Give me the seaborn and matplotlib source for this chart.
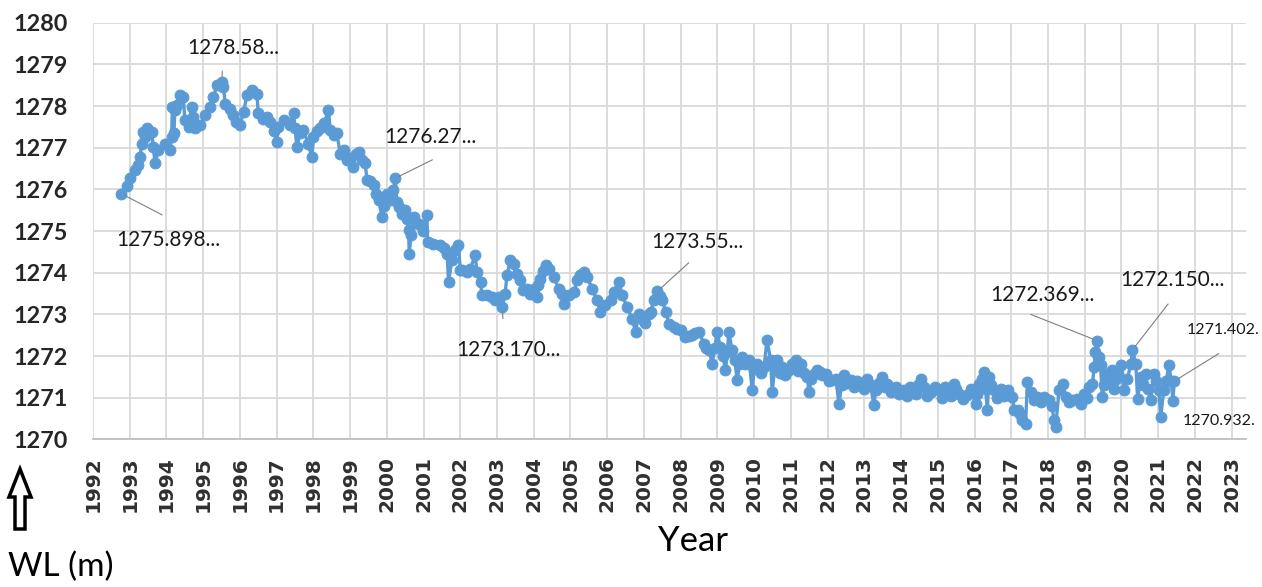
import matplotlib
matplotlib.use('Agg')
import matplotlib.pyplot as plt
from matplotlib.patches import Polygon
import seaborn as sns
import pandas as pd

# water level (decimal year, metres)
years = [
    1992.76, 1992.92, 1993.00, 1993.14, 1993.23, 1993.28, 1993.33, 1993.37, 1993.42, 1993.46,
    1993.60, 1993.64, 1993.69, 1993.78, 1993.96, 1994.10, 1994.14, 1994.16, 1994.20, 1994.23,
    1994.28, 1994.37, 1994.46, 1994.50, 1994.60, 1994.69, 1994.73, 1994.78, 1994.92, 1995.05,
    1995.19, 1995.28, 1995.37, 1995.51, 1995.55, 1995.60, 1995.73, 1995.82, 1995.90, 1996.00,
    1996.10, 1996.19, 1996.32, 1996.46, 1996.50, 1996.64, 1996.73, 1996.82, 1996.92, 1997.00,
    1997.05, 1997.19, 1997.35, 1997.46, 1997.50, 1997.55, 1997.64, 1997.73, 1997.85, 1997.96,
    1998.00, 1998.10, 1998.19, 1998.30, 1998.41, 1998.46, 1998.55, 1998.64, 1998.73, 1998.82,
    1998.91, 1999.00, 1999.09, 1999.16, 1999.23, 1999.32, 1999.41, 1999.46, 1999.55, 1999.64,
    1999.71, 1999.78, 1999.87, 1999.93, 2000.00, 2000.09, 2000.18, 2000.23, 2000.27, 2000.32,
    2000.41, 2000.50, 2000.55, 2000.59, 2000.61, 2000.66, 2000.73, 2000.80, 2000.87, 2000.98,
    2001.09, 2001.11, 2001.27, 2001.45, 2001.55, 2001.64, 2001.68, 2001.77, 2001.86, 2001.95,
    2002.00, 2002.05, 2002.18, 2002.27, 2002.41, 2002.45, 2002.55, 2002.59, 2002.73, 2002.86,
    2002.95, 2003.04, 2003.14, 2003.22, 2003.27, 2003.36, 2003.45, 2003.54, 2003.63, 2003.72,
    2003.82, 2003.91, 2004.00, 2004.09, 2004.11, 2004.18, 2004.25, 2004.32, 2004.41, 2004.54,
    2004.68, 2004.77, 2004.81, 2004.95, 2005.09, 2005.18, 2005.27, 2005.36, 2005.45, 2005.59,
    2005.72, 2005.81, 2005.95, 2006.09, 2006.18, 2006.31, 2006.41, 2006.54, 2006.68, 2006.77,
    2006.86, 2006.95, 2007.04, 2007.13, 2007.18, 2007.27, 2007.36, 2007.43, 2007.50, 2007.59,
    2007.68, 2007.81, 2007.90, 2008.00, 2008.13, 2008.22, 2008.31, 2008.40, 2008.50, 2008.63,
    2008.70, 2008.77, 2008.86, 2008.93, 2008.99, 2009.08, 2009.15, 2009.22, 2009.27, 2009.31,
    2009.40, 2009.47, 2009.54, 2009.60, 2009.67, 2009.76, 2009.86, 2009.95, 2010.00, 2010.08,
    2010.18, 2010.27, 2010.35, 2010.45, 2010.49, 2010.56, 2010.63, 2010.70, 2010.76, 2010.85,
    2010.95, 2011.04, 2011.13, 2011.20, 2011.27, 2011.36, 2011.45, 2011.49, 2011.56, 2011.63,
    2011.72, 2011.80, 2011.85, 2011.95, 2012.05, 2012.13, 2012.22, 2012.31, 2012.38, 2012.45,
    2012.54, 2012.63, 2012.72, 2012.80, 2012.90, 2013.00, 2013.08, 2013.17, 2013.26, 2013.31,
    2013.40, 2013.49, 2013.56, 2013.63, 2013.72, 2013.85, 2013.95, 2014.08, 2014.17, 2014.25,
    2014.31, 2014.40, 2014.47, 2014.53, 2014.62, 2014.70, 2014.81, 2014.92, 2015.03, 2015.12,
    2015.20, 2015.26, 2015.35, 2015.44, 2015.50, 2015.58, 2015.68, 2015.80, 2015.90, 2016.03,
    2016.08, 2016.12, 2016.20, 2016.26, 2016.30, 2016.35, 2016.39, 2016.46, 2016.53, 2016.62,
    2016.71, 2016.80, 2016.90, 2017.03, 2017.08, 2017.17, 2017.25, 2017.30, 2017.39, 2017.44,
    2017.53, 2017.62, 2017.71, 2017.80, 2017.90, 2018.03, 2018.10, 2018.17, 2018.21, 2018.30,
    2018.40, 2018.49, 2018.58, 2018.67, 2018.80, 2018.90, 2018.98, 2019.05, 2019.12, 2019.21,
    2019.26, 2019.28, 2019.34, 2019.39, 2019.43, 2019.48, 2019.52, 2019.57, 2019.66, 2019.75,
    2019.80, 2019.84, 2019.90, 2019.98, 2020.07, 2020.16, 2020.26, 2020.30, 2020.39, 2020.44,
    2020.53, 2020.60, 2020.66, 2020.72, 2020.80, 2020.89, 2020.95, 2021.02, 2021.07, 2021.15,
    2021.22, 2021.29, 2021.36, 2021.40, 2021.44,
]
wl = [
    1275.90, 1276.07, 1276.27, 1276.47, 1276.58, 1276.78, 1277.10, 1277.38, 1277.26, 1277.47,
    1277.38, 1277.02, 1276.63, 1276.94, 1277.10, 1276.94, 1277.26, 1277.98, 1277.35, 1277.90,
    1278.02, 1278.27, 1278.22, 1277.67, 1277.50, 1277.98, 1277.74, 1277.47, 1277.55, 1277.78,
    1277.98, 1278.22, 1278.50, 1278.58, 1278.46, 1278.06, 1277.94, 1277.78, 1277.62, 1277.55,
    1277.86, 1278.26, 1278.38, 1278.30, 1277.83, 1277.70, 1277.74, 1277.62, 1277.40, 1277.14,
    1277.50, 1277.67, 1277.55, 1277.83, 1277.47, 1277.02, 1277.35, 1277.43, 1277.10, 1276.78,
    1277.26, 1277.40, 1277.47, 1277.60, 1277.90, 1277.43, 1277.30, 1277.35, 1276.86, 1276.95,
    1276.70, 1276.75, 1276.54, 1276.85, 1276.90, 1276.70, 1276.63, 1276.22, 1276.20, 1276.10,
    1275.90, 1275.74, 1275.34, 1275.60, 1275.90, 1275.75, 1275.98, 1276.27, 1275.70, 1275.58,
    1275.40, 1275.50, 1275.30, 1275.02, 1274.46, 1274.90, 1275.34, 1275.20, 1275.18, 1275.00,
    1275.38, 1274.74, 1274.70, 1274.66, 1274.60, 1274.46, 1273.78, 1274.30, 1274.54, 1274.66,
    1274.07, 1274.07, 1274.02, 1274.10, 1274.42, 1274.02, 1273.78, 1273.46, 1273.46, 1273.42,
    1273.35, 1273.42, 1273.17, 1273.50, 1273.94, 1274.30, 1274.22, 1273.98, 1273.82, 1273.58,
    1273.62, 1273.50, 1273.60, 1273.42, 1273.70, 1273.86, 1274.05, 1274.18, 1274.10, 1273.90,
    1273.62, 1273.50, 1273.26, 1273.46, 1273.54, 1273.82, 1273.95, 1274.02, 1273.90, 1273.62,
    1273.34, 1273.06, 1273.22, 1273.34, 1273.54, 1273.78, 1273.46, 1273.18, 1272.90, 1272.58,
    1273.02, 1272.90, 1272.80, 1273.02, 1273.06, 1273.34, 1273.55, 1273.45, 1273.34, 1273.06,
    1272.78, 1272.70, 1272.66, 1272.62, 1272.46, 1272.48, 1272.50, 1272.55, 1272.58, 1272.30,
    1272.20, 1272.14, 1271.82, 1272.20, 1272.58, 1272.22, 1272.00, 1271.66, 1272.10, 1272.58,
    1272.14, 1271.90, 1271.42, 1271.80, 1271.98, 1271.80, 1271.90, 1271.18, 1271.70, 1271.82,
    1271.60, 1271.74, 1272.38, 1271.90, 1271.14, 1271.70, 1271.90, 1271.60, 1271.74, 1271.55,
    1271.66, 1271.80, 1271.90, 1271.65, 1271.82, 1271.60, 1271.50, 1271.14, 1271.45, 1271.58,
    1271.66, 1271.62, 1271.54, 1271.58, 1271.40, 1271.42, 1271.46, 1270.86, 1271.30, 1271.54,
    1271.35, 1271.42, 1271.25, 1271.40, 1271.34, 1271.20, 1271.46, 1271.30, 1270.82, 1271.18,
    1271.35, 1271.50, 1271.25, 1271.34, 1271.15, 1271.26, 1271.10, 1271.18, 1271.05, 1271.25,
    1271.22, 1271.10, 1271.30, 1271.46, 1271.26, 1271.05, 1271.14, 1271.25, 1271.18, 1271.00,
    1271.25, 1271.14, 1271.05, 1271.34, 1271.20, 1271.10, 1270.98, 1271.06, 1271.20, 1270.86,
    1271.10, 1271.34, 1271.45, 1271.62, 1271.20, 1270.70, 1271.50, 1271.30, 1271.18, 1271.00,
    1271.22, 1271.05, 1271.18, 1271.02, 1270.70, 1270.70, 1270.60, 1270.46, 1270.38, 1271.38,
    1271.14, 1270.95, 1271.02, 1270.90, 1271.02, 1270.94, 1270.80, 1270.46, 1270.30, 1271.18,
    1271.34, 1271.02, 1270.90, 1270.94, 1270.98, 1270.85, 1271.10, 1271.00, 1271.26, 1271.34,
    1271.74, 1272.10, 1272.37, 1271.98, 1271.78, 1271.02, 1271.30, 1271.58, 1271.38, 1271.66,
    1271.20, 1271.46, 1271.60, 1271.78, 1271.18, 1271.46, 1271.82, 1272.15, 1271.82, 1270.98,
    1271.50, 1271.30, 1271.58, 1271.20, 1270.94, 1271.58, 1271.40, 1271.18, 1270.54, 1271.18,
    1271.40, 1271.78, 1271.40, 1270.93, 1271.40,
]

# data labels shown on the chart: text, labelled point, text position, leader end (None = no line)
label_texts = ['1278.58...', '1275.898...', '1276.27...', '1273.170...', '1273.55...',
               '1272.369...', '1272.150...', '1271.402.', '1270.932.']
label_points = [(1995.51, 1278.58), (1992.76, 1275.90), (2000.23, 1276.27), (2003.14, 1273.17),
                (2007.36, 1273.55), (2019.34, 1272.37), (2020.30, 1272.15), (2021.44, 1271.40),
                (2021.40, 1270.93)]
label_pos = [(1995.81, 1279.39), (1994.04, 1274.78), (2001.18, 1277.26), (2003.31, 1272.14),
             (2008.46, 1274.74), (2017.86, 1273.47), (2021.40, 1273.83), (2022.76, 1272.63),
             (2022.65, 1270.44)]
label_line_end = [(1995.52, 1278.84), (1993.88, 1275.39), (2001.24, 1276.71), (2003.16, 1272.90),
                  (2008.22, 1274.24), (2017.53, 1273.0), (2021.27, 1273.25), (2022.65, 1272.06),
                  None]
label_sizes = [15, 15, 15, 15, 15, 15, 15, 11.5, 11.5]

BLUE = '#5B9BD5'


def plot_wl(df):
    fig, ax = plt.subplots(figsize=(12.62, 5.87), dpi=100)
    fig.subplots_adjust(left=0.0737, right=0.987, top=0.9613, bottom=0.2514)

    sns.lineplot(data=df, x='year', y='wl', estimator=None, sort=False, ax=ax,
                 color=BLUE, linewidth=2.4, marker='o', markersize=7.8,
                 markeredgecolor=BLUE, markerfacecolor=BLUE)

    ax.set_xlim(1992, 2023.38)
    ax.set_ylim(1270, 1280)
    ax.set_xticks(range(1992, 2024))
    ax.set_yticks(range(1270, 1281))
    ax.set_xticklabels([str(y) for y in range(1992, 2024)], rotation=90,
                       fontsize=14.5, fontweight='bold', color='#303030',
                       family='DejaVu Sans')
    ax.set_yticklabels([str(v) for v in range(1270, 1281)], fontsize=16.8,
                       fontweight='bold', color='#262626')
    ax.tick_params(axis='both', length=0)
    ax.tick_params(axis='y', pad=18)
    ax.tick_params(axis='x', pad=12)
    ax.set_xlabel('')
    ax.set_ylabel('')

    ax.grid(True, color='#D9D9D9', linewidth=1.3)
    ax.set_axisbelow(True)
    for side in ['top', 'right', 'left']:
        ax.spines[side].set_visible(False)
    ax.spines['bottom'].set_color('#BFBFBF')
    ax.spines['bottom'].set_linewidth(1.3)

    # data labels with leader lines
    for txt, pt, pos, end, fs in zip(label_texts, label_points, label_pos,
                                     label_line_end, label_sizes):
        if end is not None:
            ax.annotate('', xy=pt, xytext=end,
                        arrowprops=dict(arrowstyle='-', color='#7F7F7F', lw=0.8,
                                        shrinkA=0, shrinkB=3))
        ax.text(pos[0], pos[1], txt, ha='center', va='center', fontsize=fs,
                color='#1a1a1a', clip_on=False)

    fig.text(693 / 1262, 1 - 541 / 587, 'Year', ha='center', va='center',
             fontsize=25, color='black')
    fig.text(8 / 1262, 1 - 567 / 587, 'WL (m)', ha='left', va='center',
             fontsize=24, color='black')

    # hollow up arrow next to the y axis name
    W, H = 1262.0, 587.0
    pts = [(20, 469), (31, 497), (25, 497), (25, 529), (15, 529), (15, 497), (9, 497)]
    arrow = Polygon([(x / W, 1 - y / H) for x, y in pts], closed=True,
                    transform=fig.transFigure, facecolor='white',
                    edgecolor='black', linewidth=2.5)
    fig.patches.append(arrow)

    plt.savefig('out.png', dpi=100)


def main():
    sns.set_style('white')
    plt.rcParams['font.family'] = ['Lato', 'DejaVu Sans']
    df = pd.DataFrame({'year': years, 'wl': wl})
    plot_wl(df)


if __name__ == '__main__':
    main()
